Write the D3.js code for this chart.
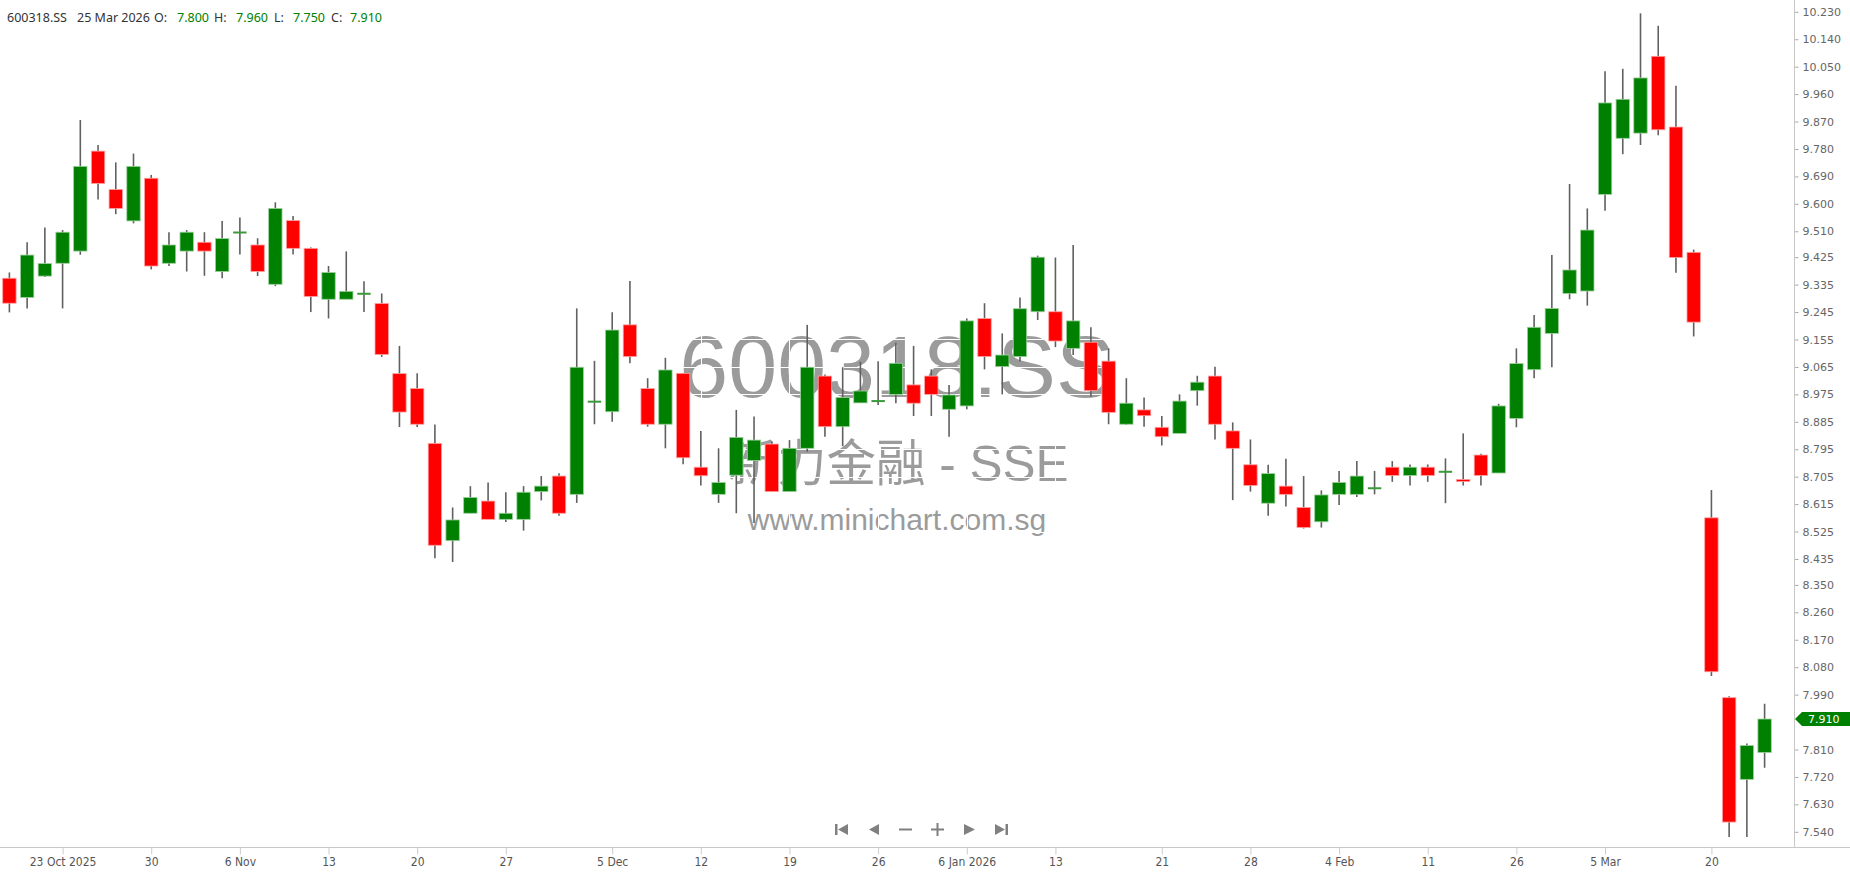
<!DOCTYPE html>
<html>
<head>
<meta charset="utf-8">
<script src="https://cdnjs.cloudflare.com/ajax/libs/d3/7.8.5/d3.min.js"></script>
<style>
body { margin: 0; background: #fff; }
svg { display: block; }
</style>
</head>
<body>
<div id="chart"></div>
<script>
var symbol = '600318.SS';
var lastDate = '25 Mar 2026';
var exchange = '新力金融 - SSE';
var site = 'www.minichart.com.sg';

// daily OHLC, oldest first
var opens = [9.356, 9.293, 9.363, 9.405, 9.445, 9.773, 9.647, 9.544, 9.684, 9.405,
    9.445, 9.474, 9.378, 9.506, 9.465, 9.336, 9.545, 9.454, 9.287, 9.287,
    9.305, 9.273, 9.043, 8.994, 8.814, 8.495, 8.585, 8.625, 8.565, 8.565,
    8.656, 8.707, 8.647, 8.951, 8.918, 9.203, 8.994, 8.877, 9.044, 8.736,
    8.647, 8.710, 8.758, 8.812, 8.656, 8.798, 9.035, 8.869, 8.947, 8.953,
    8.975, 9.006, 9.035, 8.926, 8.937, 9.224, 9.066, 9.099, 9.246, 9.246,
    9.126, 9.146, 9.084, 8.877, 8.924, 8.867, 8.847, 8.987, 9.035, 8.855,
    8.744, 8.618, 8.674, 8.604, 8.557, 8.647, 8.647, 8.667, 8.736, 8.709,
    8.736, 8.721, 8.696, 8.776, 8.717, 8.896, 9.056, 9.175, 9.306, 9.314,
    9.631, 9.815, 9.832, 10.084, 9.852, 9.441, 8.570, 7.980, 7.712, 7.800];
var highs = [9.375, 9.474, 9.522, 9.514, 9.875, 9.793, 9.736, 9.765, 9.695, 9.507,
    9.514, 9.507, 9.544, 9.555, 9.487, 9.605, 9.560, 9.457, 9.396, 9.444,
    9.346, 9.306, 9.134, 9.044, 8.876, 8.604, 8.674, 8.686, 8.654, 8.674,
    8.707, 8.716, 9.257, 9.085, 9.244, 9.347, 9.028, 9.095, 9.044, 8.855,
    8.798, 8.924, 8.902, 8.820, 8.825, 9.203, 9.040, 9.064, 9.082, 9.084,
    9.144, 9.134, 9.057, 9.006, 9.224, 9.274, 9.175, 9.293, 9.430, 9.424,
    9.465, 9.195, 9.126, 9.028, 8.965, 8.904, 8.975, 9.036, 9.066, 8.883,
    8.827, 8.744, 8.764, 8.707, 8.660, 8.724, 8.756, 8.724, 8.756, 8.745,
    8.745, 8.765, 8.847, 8.780, 8.944, 9.126, 9.235, 9.432, 9.665, 9.585,
    10.035, 10.043, 10.225, 10.184, 9.987, 9.450, 8.661, 7.985, 7.830, 7.960];
var lows = [9.244, 9.257, 9.360, 9.257, 9.433, 9.614, 9.566, 9.536, 9.385, 9.396,
    9.378, 9.364, 9.356, 9.434, 9.363, 9.330, 9.434, 9.245, 9.224, 9.287,
    9.245, 9.098, 8.868, 8.868, 8.437, 8.425, 8.585, 8.565, 8.556, 8.528,
    8.627, 8.577, 8.619, 8.877, 8.885, 9.077, 8.869, 8.798, 8.746, 8.676,
    8.619, 8.585, 8.553, 8.656, 8.656, 8.787, 8.836, 8.805, 8.947, 8.940,
    8.946, 8.904, 8.904, 8.836, 8.926, 9.057, 8.975, 9.083, 9.219, 9.130,
    9.104, 8.967, 8.877, 8.875, 8.869, 8.807, 8.847, 8.938, 8.827, 8.628,
    8.656, 8.577, 8.607, 8.535, 8.538, 8.612, 8.638, 8.647, 8.688, 8.676,
    8.688, 8.618, 8.676, 8.676, 8.717, 8.867, 9.028, 9.064, 9.287, 9.266,
    9.577, 9.763, 9.793, 9.825, 9.374, 9.165, 8.051, 7.523, 7.523, 7.750];
var closes = [9.274, 9.432, 9.404, 9.507, 9.723, 9.667, 9.585, 9.723, 9.396, 9.465,
    9.507, 9.445, 9.486, 9.506, 9.378, 9.585, 9.454, 9.296, 9.375, 9.313,
    9.305, 9.106, 8.917, 8.877, 8.480, 8.563, 8.637, 8.565, 8.585, 8.654,
    8.674, 8.585, 9.064, 8.951, 9.186, 9.099, 8.877, 9.055, 8.767, 8.708,
    8.686, 8.834, 8.825, 8.656, 8.798, 9.064, 8.869, 8.965, 8.986, 8.953,
    9.077, 8.946, 8.975, 8.973, 9.216, 9.099, 9.104, 9.256, 9.425, 9.150,
    9.216, 8.987, 8.916, 8.946, 8.905, 8.836, 8.953, 9.015, 8.877, 8.798,
    8.676, 8.715, 8.647, 8.538, 8.645, 8.686, 8.707, 8.667, 8.709, 8.736,
    8.709, 8.721, 8.689, 8.709, 8.937, 9.076, 9.195, 9.257, 9.383, 9.514,
    9.931, 9.943, 10.013, 9.843, 9.424, 9.212, 8.065, 7.572, 7.823, 7.910];

// x axis: candle index of each date label
var dateTickIdx = [3, 8, 13, 18, 23, 28, 34, 39, 44, 49, 54, 59, 65, 70, 75, 80, 85, 90, 96];
var dateTickText = ['23 Oct 2025', '30', '6 Nov', '13', '20', '27', '5 Dec', '12', '19', '26',
    '6 Jan 2026', '13', '21', '28', '4 Feb', '11', '26', '5 Mar', '20'];

// y axis labels (7.900 sits under the price tag)
var priceTicks = ['10.230', '10.140', '10.050', '9.960', '9.870', '9.780', '9.690', '9.600',
    '9.510', '9.425', '9.335', '9.245', '9.155', '9.065', '8.975', '8.885', '8.795', '8.705',
    '8.615', '8.525', '8.435', '8.350', '8.260', '8.170', '8.080', '7.990', '7.810',
    '7.720', '7.630', '7.540'];

var W = 1850, H = 874;
var plotRight = 1794, plotBottom = 847;
var up = '#008000', down = '#ff0000';

var candles = opens.map(function (o, i) {
    return { i: i, o: o, h: highs[i], l: lows[i], c: closes[i] };
});

var x = d3.scaleLinear().domain([0, candles.length - 1]).range([9.4, 1764.6]);
var y = d3.scaleLinear().domain([7.54, 10.23]).range([831.8, 11.8]);
var bodyW = 13.4;

var svg = d3.select('#chart').append('svg')
    .attr('width', W)
    .attr('height', H);

svg.append('rect').attr('width', W).attr('height', H).attr('fill', '#fff');

// watermark
var wm = svg.append('g').attr('fill', '#9b9b9b').attr('text-anchor', 'middle');
wm.append('text')
    .attr('x', 897).attr('y', 397)
    .style('font-family', 'Liberation Sans, Arial, sans-serif')
    .style('font-size', '88px')
    .text(symbol);
wm.append('text')
    .attr('x', 898).attr('y', 481)
    .style('font-family', 'Liberation Sans, Noto Sans CJK SC, sans-serif')
    .style('font-size', '49.5px')
    .text(exchange);
wm.append('text')
    .attr('x', 897).attr('y', 530)
    .style('font-family', 'Liberation Sans, Arial, sans-serif')
    .style('font-size', '30px')
    .text(site);

// white grid (only shows over the watermark)
svg.append('g').selectAll('line.hg')
    .data(priceTicks)
    .enter().append('line')
    .attr('x1', 0).attr('x2', plotRight)
    .attr('y1', function (d) { return Math.round(y(+d)) + 0.5; })
    .attr('y2', function (d) { return Math.round(y(+d)) + 0.5; })
    .attr('stroke', '#fff').attr('stroke-width', 1);
svg.append('g').selectAll('line.vg')
    .data(dateTickIdx)
    .enter().append('line')
    .attr('y1', 0).attr('y2', plotBottom)
    .attr('x1', function (d) { return Math.round(x(d)) + 0.5; })
    .attr('x2', function (d) { return Math.round(x(d)) + 0.5; })
    .attr('stroke', '#fff').attr('stroke-width', 1);

// candles
var cg = svg.append('g');
cg.selectAll('line.wick')
    .data(candles)
    .enter().append('line')
    .attr('x1', function (d) { return x(d.i); })
    .attr('x2', function (d) { return x(d.i); })
    .attr('y1', function (d) { return y(d.h); })
    .attr('y2', function (d) { return y(d.l); })
    .attr('stroke', '#606060')
    .attr('stroke-width', 1.6);

cg.selectAll('rect.body')
    .data(candles.filter(function (d) { return d.o !== d.c; }))
    .enter().append('rect')
    .attr('x', function (d) { return x(d.i) - bodyW / 2; })
    .attr('y', function (d) { return y(Math.max(d.o, d.c)); })
    .attr('width', bodyW)
    .attr('height', function (d) { return Math.max(1.5, y(Math.min(d.o, d.c)) - y(Math.max(d.o, d.c))); })
    .attr('fill', function (d) { return d.c > d.o ? up : down; })
    .attr('stroke', function (d) { return d.c > d.o ? '#9fd09f' : '#ffa0a0'; })
    .attr('stroke-width', 0.8);

// doji
cg.selectAll('line.doji')
    .data(candles.filter(function (d) { return d.o === d.c; }))
    .enter().append('line')
    .attr('x1', function (d) { return x(d.i) - bodyW / 2; })
    .attr('x2', function (d) { return x(d.i) + bodyW / 2; })
    .attr('y1', function (d) { return y(d.c); })
    .attr('y2', function (d) { return y(d.c); })
    .attr('stroke', '#3a9a3a')
    .attr('stroke-width', 2);

// right price axis
var yAxis = d3.axisRight(y)
    .tickValues(priceTicks.map(Number))
    .tickFormat(function (d, i) { return priceTicks[i]; })
    .tickSize(4)
    .tickPadding(4);
var ya = svg.append('g')
    .attr('transform', 'translate(' + (plotRight + 0.5) + ',0)')
    .call(yAxis);
ya.select('.domain').remove();
ya.selectAll('.tick line').attr('stroke', '#aaa');
ya.selectAll('.tick text')
    .attr('fill', '#666')
    .style('font-family', 'DejaVu Sans, Verdana, sans-serif')
    .style('font-size', '11px');
svg.append('line')
    .attr('x1', plotRight + 0.5).attr('x2', plotRight + 0.5)
    .attr('y1', 0).attr('y2', plotBottom)
    .attr('stroke', '#c8c8c8');

// bottom date axis
var xAxis = d3.axisBottom(x)
    .tickValues(dateTickIdx)
    .tickFormat(function (d, i) { return dateTickText[i]; })
    .tickSize(7)
    .tickPadding(3);
var xa = svg.append('g')
    .attr('transform', 'translate(0,' + (plotBottom + 0.5) + ')')
    .call(xAxis);
xa.select('.domain').remove();
xa.selectAll('.tick line').attr('stroke', '#ccc');
xa.selectAll('.tick text')
    .attr('fill', '#555')
    .style('font-family', 'Liberation Sans Narrow, DejaVu Sans Condensed, sans-serif')
    .style('font-stretch', 'condensed')
    .style('font-size', '12px');
svg.append('line')
    .attr('x1', 0).attr('x2', W)
    .attr('y1', plotBottom + 0.5).attr('y2', plotBottom + 0.5)
    .attr('stroke', '#c8c8c8');

// last price tag
var last = candles[candles.length - 1];
var ty = y(last.c);
svg.append('path')
    .attr('d', 'M' + (plotRight + 1) + ',' + ty + 'L' + (plotRight + 8) + ',' + (ty - 7) +
        'L' + W + ',' + (ty - 7) + 'L' + W + ',' + (ty + 7) + 'L' + (plotRight + 8) + ',' + (ty + 7) + 'Z')
    .attr('fill', up);
svg.append('text')
    .attr('x', 1808).attr('y', ty + 4)
    .attr('fill', '#fff')
    .style('font-family', 'DejaVu Sans, Verdana, sans-serif')
    .style('font-size', '11px')
    .text(last.c.toFixed(3));

// header
var fmt = d3.format('.3f');
var head = svg.append('g')
    .style('font-family', 'Noto Sans, Open Sans, sans-serif')
    .style('font-size', '12.5px');
var parts = [
    [7, symbol, '#333'], [77, lastDate, '#333'],
    [154, 'O:', '#333'], [177, fmt(last.o), up],
    [214, 'H:', '#333'], [236, fmt(last.h), up],
    [274, 'L:', '#333'], [293, fmt(last.l), up],
    [331, 'C:', '#333'], [350, fmt(last.c), up]
];
parts.forEach(function (p) {
    head.append('text').attr('x', p[0]).attr('y', 22).attr('fill', p[2]).text(p[1]);
});

// navigation buttons
var nav = svg.append('g').attr('fill', '#808080');
nav.append('rect').attr('x', 835).attr('y', 824).attr('width', 2.5).attr('height', 11);
nav.append('path').attr('d', 'M848,824L848,835L838,829.5Z');
nav.append('path').attr('d', 'M879,824L879,835L869,829.5Z');
nav.append('rect').attr('x', 899).attr('y', 828.5).attr('width', 13).attr('height', 2);
nav.append('rect').attr('x', 931).attr('y', 828.5).attr('width', 13).attr('height', 2);
nav.append('rect').attr('x', 936.5).attr('y', 823).attr('width', 2).attr('height', 13);
nav.append('path').attr('d', 'M964,824L964,835L975,829.5Z');
nav.append('path').attr('d', 'M995,824L995,835L1005,829.5Z');
nav.append('rect').attr('x', 1005.5).attr('y', 824).attr('width', 2.5).attr('height', 11);
</script>
</body>
</html>
